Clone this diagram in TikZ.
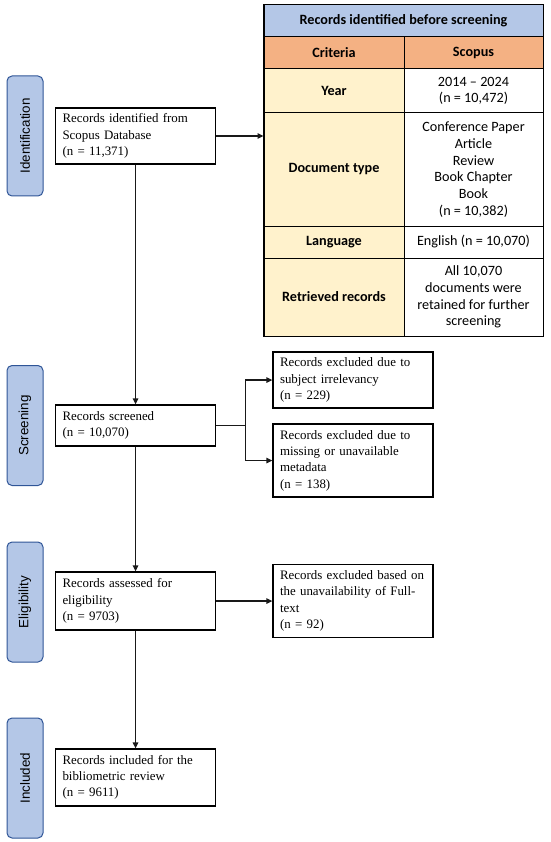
\documentclass[tikz,border=0pt]{standalone}
\usepackage{fontspec}
\setmainfont{Liberation Serif}
\newfontfamily\calfont{Carlito}
\newfontfamily\arialfont{Liberation Sans}
\usetikzlibrary{arrows.meta}
\definecolor{phaseblue}{HTML}{B4C7E7}
\definecolor{phaseedge}{HTML}{2F5597}
\definecolor{hdrorange}{HTML}{F4B183}
\definecolor{creamcol}{HTML}{FFF2CC}
\tikzset{
 phase/.style={draw=phaseedge, line width=1pt, fill=phaseblue, rounded corners=5pt, rotate=90,
   minimum width=120pt, minimum height=36pt, inner sep=0pt, font=\arialfont\fontsize{13.4}{15}\selectfont},
 flowbox/.style={draw=black, line width=1.3pt, fill=white, text width=146pt, align=left,
   inner xsep=7pt, inner ysep=0pt, font=\fontsize{12.9}{16.3}\selectfont},
 conn/.style={line width=1.3pt, draw=black!90},
 arr/.style={conn, -{Triangle[length=6pt,width=5.5pt]}},
 cell/.style={draw=black, line width=1pt, inner sep=0pt, align=center,
   font=\calfont\fontsize{14.2}{16.7}\selectfont},
 lcell/.style={cell, fill=creamcol, minimum width=140pt, font=\calfont\bfseries\fontsize{14.2}{16.7}\selectfont},
 rcell/.style={cell, fill=white, minimum width=139pt},
}
\begin{document}
\begin{tikzpicture}[x=1pt,y=-1pt]
\useasboundingbox (0,0) rectangle (550,842);
% phases
\node[phase] (p1) at (25,136) {Identification};
\node[phase] (p2) at (25,425.5) {Screening};
\node[phase] (p3) at (25,602) {Eligibility};
\node[phase] (p4) at (25,778) {Included};
% main boxes
\node[flowbox, minimum height=56pt] (b1) at (135.5,136) {Records identified from\\Scopus Database\\(n = 11,371)};
\node[flowbox, minimum height=41pt] (b2) at (135.5,425.5) {Records screened\\(n = 10,070)};
\node[flowbox, minimum height=58pt] (b3) at (135.5,601) {Records assessed for\\eligibility\\(n = 9703)};
\node[flowbox, minimum height=57pt] (b4) at (135.5,777.5) {Records included for the\\bibliometric review\\(n = 9611)};
% excluded boxes
\node[flowbox, minimum height=56pt] (e1) at (353,380) {Records excluded due to\\subject irrelevancy\\(n = 229)};
\node[flowbox, minimum height=73pt] (e2) at (353,460.5) {Records excluded due to\\missing or unavailable\\metadata\\(n = 138)};
\node[flowbox, minimum height=73pt] (e3) at (353,601) {Records excluded based on\\the unavailability of Full-\\text\\(n = 92)};
% table
\node[cell, fill=phaseblue, minimum width=279pt, minimum height=32pt, font=\calfont\bfseries\fontsize{14.2}{16.7}\selectfont] (th) at (403.5,21) {Records identified before screening};
\node[lcell, fill=hdrorange, minimum height=32pt] (cL) at (334,53) {Criteria};
\node[rcell, fill=hdrorange, minimum height=32pt, font=\calfont\bfseries\fontsize{14.2}{16.7}\selectfont] (cR) at (473.5,53) {Scopus};
\node[lcell, minimum height=44pt] (yL) at (334,91) {Year};
\node[rcell, minimum height=44pt] (yR) at (473.5,91) {2014 – 2024\\(n = 10,472)};
\node[lcell, minimum height=113pt] (dL) at (334,169.5) {Document type};
\node[rcell, minimum height=113pt] (dR) at (473.5,169.5) {Conference Paper\\Article\\Review\\Book Chapter\\Book\\(n = 10,382)};
\node[lcell, minimum height=32pt] (lL) at (334,242) {Language};
\node[rcell, minimum height=32pt] (lR) at (473.5,242) {English (n = 10,070)};
\node[lcell, minimum height=78pt] (rL) at (334,297) {Retrieved records};
\node[rcell, minimum height=78pt] (rR) at (473.5,297) {All 10,070\\documents were\\retained for further\\screening};
\draw[line width=1.8pt] (th.north west) rectangle (rR.south east);
% connectors
\draw[arr] (b1.east) -- (b1.east -| dL.west);
\draw[arr] (b1.south) -- (b2.north);
\draw[arr] (b2.south) -- (b3.north);
\draw[arr] (b3.south) -- (b4.north);
\draw[conn] (b2.east) -- ++(29,0) coordinate (br);
\draw[arr] (br) |- (e1.west);
\draw[arr] (br) |- (e2.west);
\draw[arr] (b3.east) -- (e3.west);
\end{tikzpicture}
\end{document}
